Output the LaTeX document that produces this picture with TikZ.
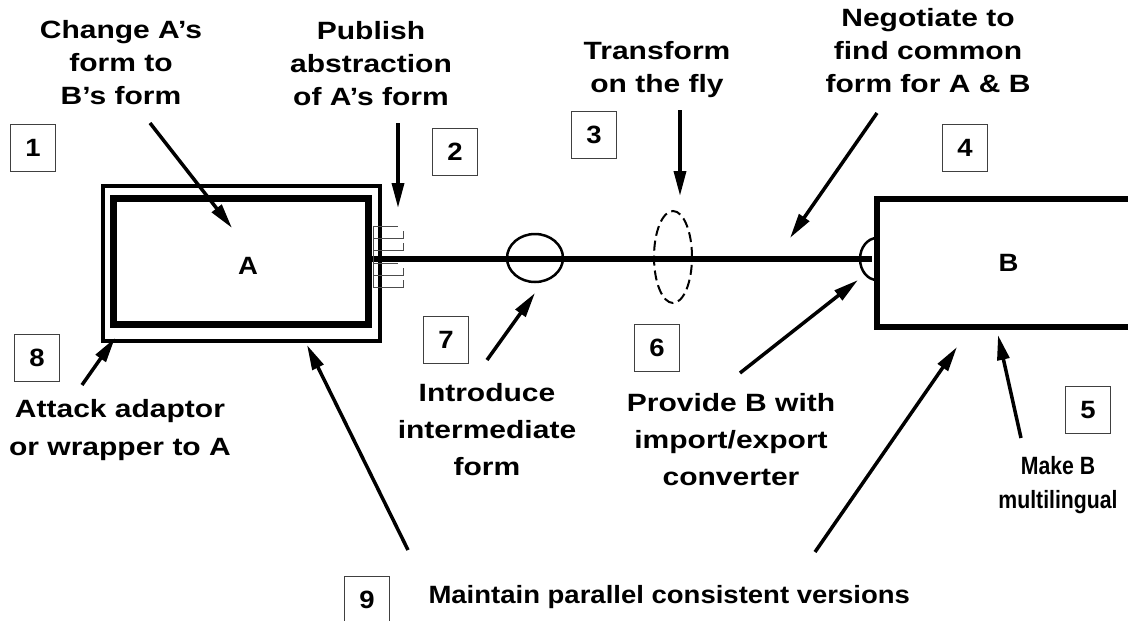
\documentclass[tikz,border=0pt]{standalone}
\usepackage{fontspec}
\setmainfont{Liberation Sans}[FakeStretch=1.2]
\newfontfamily\plainfont{Liberation Sans}[FakeStretch=1.1]
\newfontfamily\narrowfont{Liberation Sans}[FakeStretch=0.85]
\usepackage{tikz}
\usetikzlibrary{arrows.meta, positioning, shapes.geometric}

\begin{document}
\begin{tikzpicture}[x=1pt, y=-1pt,
    lbl/.style={align=center, font=\bfseries\fontsize{25}{33}\selectfont},
    numbox/.style={draw=black!75, line width=1pt, minimum width=45pt, minimum height=47pt,
      inner sep=0pt, font=\plainfont\bfseries\fontsize{25}{30}\selectfont},
    pointer/.style={line width=3.5pt, -{Triangle[length=25pt, width=12pt]}},
    pin/.style={line width=1pt, black!70}]
	\useasboundingbox (0,0) rectangle (1128,621);
	
	% Systems A and B
	\node[draw, line width=4pt, minimum width=277pt, minimum height=155pt] (wrapA) at (241.5,263.5) {};
	\node[draw, line width=7pt, minimum width=255pt, minimum height=126pt] (boxA) at (240.5,261) {};
	\node[font=\plainfont\bfseries\fontsize{25}{30}\selectfont] (labA) at (248,266) {A};
	\node[draw, line width=6pt, minimum width=263pt, minimum height=128pt,
	  font=\plainfont\bfseries\fontsize{25}{30}\selectfont] (boxB) at (1008.5,263) {B};
	
	% Link between A and B
	\coordinate (linkL) at (368,259);
	\coordinate (linkR) at (872,259);
	\draw[line width=6pt] (linkL) -- (linkR);
	\node[draw, ellipse, line width=2.5pt, minimum width=56pt, minimum height=48pt, inner sep=0pt] (midform) at (535,258) {};
	\node[draw, ellipse, line width=2pt, dash pattern=on 10pt off 5pt, minimum width=38pt, minimum height=92pt, inner sep=0pt] (flyform) at (673,257) {};
	\draw[line width=2.5pt] (877,238) arc[start angle=90, end angle=270, x radius=17, y radius=-21];
	
	% Published pins
	\draw[pin] (373,226) -- (373,287);
	\foreach \y in {226,238,263,275} {
		\draw[pin] (373,\y) -- (398,\y);
		\draw[pin] (373,\y+12) -- (403,\y+12) -- (403,\y+5);
	}
	
	% Labels
	\node[lbl] (chg) at (121,63) {Change A’s\\form to\\B’s form};
	\node[lbl] (pub) at (371,64) {Publish\\abstraction\\of A’s form};
	\node[lbl] (tra) at (657,70) {Transform\\on the fly};
	\node[lbl] (neg) at (928,51) {Negotiate to\\find common\\form for A \& B};
	\node[lbl, font=\bfseries\fontsize{25}{38}\selectfont] (att) at (120,430) {Attack adaptor\\or wrapper to A};
	\node[lbl, font=\bfseries\fontsize{25}{37}\selectfont] (int) at (487,430) {Introduce\\intermediate\\form};
	\node[lbl, font=\bfseries\fontsize{25}{37}\selectfont] (pro) at (731,440) {Provide B with\\import/export\\converter};
	\node[lbl, font=\narrowfont\bfseries\fontsize{25}{34}\selectfont] (mak) at (1058,485) {Make B\\multilingual};
	\node[lbl, font=\plainfont\bfseries\fontsize{25}{33}\selectfont, anchor=base west] (mai) at (425,603) {Maintain parallel consistent versions};
	
	% Numbers
	\node[numbox] (n1) at (33,148) {1};
	\node[numbox] (n2) at (455,152) {2};
	\node[numbox] (n3) at (594,135) {3};
	\node[numbox] (n4) at (965,148) {4};
	\node[numbox] (n5) at (1088,410) {5};
	\node[numbox] (n6) at (657,348) {6};
	\node[numbox] (n7) at (446,340) {7};
	\node[numbox] (n8) at (37,358) {8};
	\node[numbox] (n9) at (367,600) {9};
	
	% Pointers
	\coordinate (p1s) at (150,123);  \coordinate (p1e) at (232,228);
	\coordinate (p2s) at (398,123);  \coordinate (p2e) at (398,208);
	\coordinate (p3s) at (680,110);  \coordinate (p3e) at (680,196);
	\coordinate (p4s) at (877,113);  \coordinate (p4e) at (790,238);
	\coordinate (p5s) at (1021,438); \coordinate (p5e) at (998,335);
	\coordinate (p6s) at (740,373);  \coordinate (p6e) at (858,280);
	\coordinate (p7s) at (487,360);  \coordinate (p7e) at (535,293);
	\coordinate (p8s) at (82,385);   \coordinate (p8e) at (115,338);
	\coordinate (p9s) at (408,550);  \coordinate (p9e) at (307,345);
	\coordinate (p10s) at (815,552); \coordinate (p10e) at (957,347);
	\foreach \i in {1,...,10}
		\draw[pointer] (p\i s) -- (p\i e);
\end{tikzpicture}
\end{document}
